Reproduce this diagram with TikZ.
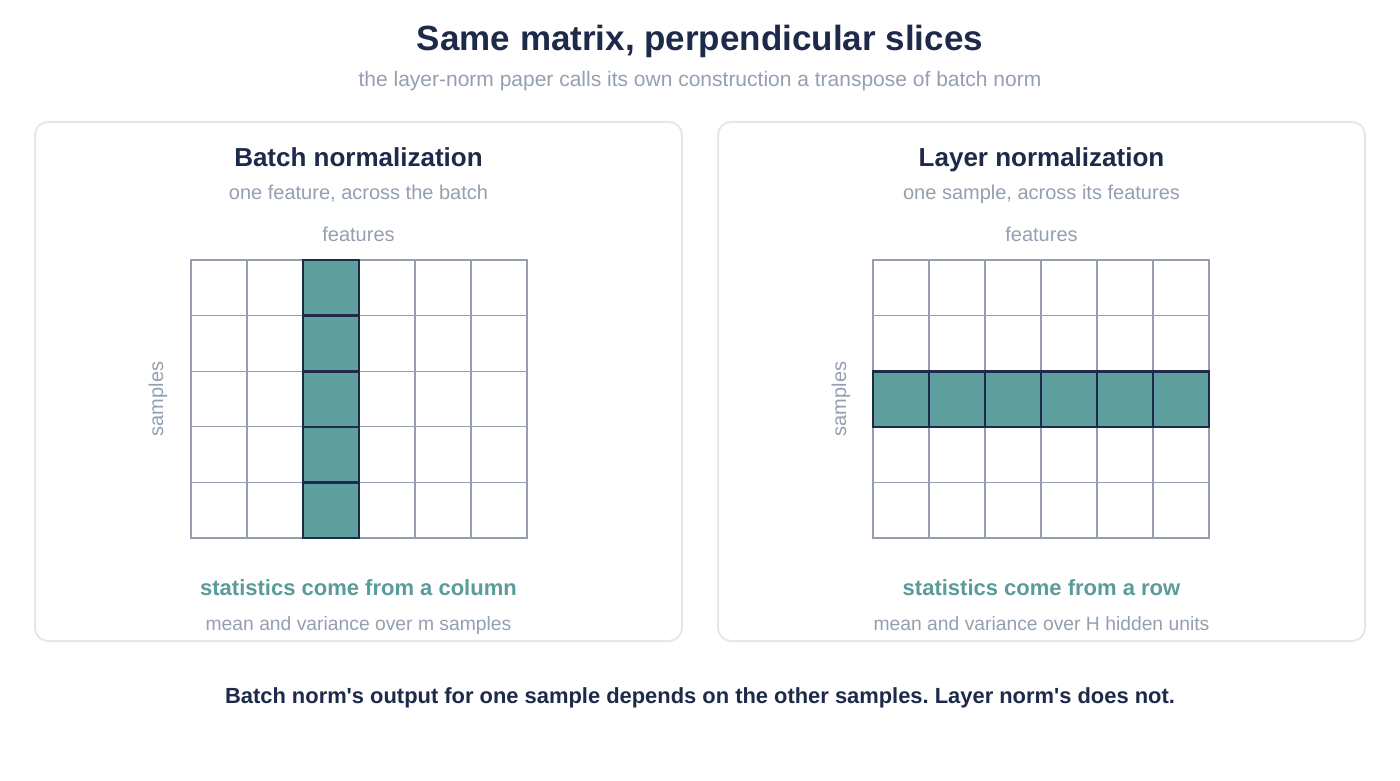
\documentclass[tikz,border=0pt]{standalone}
\usepackage{fontspec}
\setmainfont{Liberation Sans}
\definecolor{navy}{HTML}{1E2A4A}
\definecolor{muted}{HTML}{94A0B0}
\definecolor{panelline}{HTML}{E3E8EE}
\definecolor{gridline}{HTML}{949EAE}
\definecolor{teal}{HTML}{5F9F9D}
\definecolor{tealtext}{HTML}{5A9C99}
\newcommand{\fs}[1]{\fontsize{#1}{#1}\selectfont}
\frenchspacing
\tikzset{
  panel/.style={draw=panelline, line width=2pt, rounded corners=13pt, fill=white},
  cell/.style={draw=gridline, line width=1.3pt},
  hcell/.style={draw=navy, line width=2.6pt, fill=teal},
  ttl/.style={text=navy, font=\fs{35}\bfseries, anchor=base},
  sub/.style={text=muted, font=\fs{21}, anchor=base},
  ptitle/.style={text=navy, font=\fs{26}\bfseries, anchor=base},
  psub/.style={text=muted, font=\fs{20}, anchor=base},
  note/.style={text=muted, font=\fs{19.3}, anchor=base},
  rpsub/.style={text=muted, font=\fs{20}, anchor=center},
  stat/.style={text=tealtext, font=\fs{22}\bfseries, anchor=base},
  foot/.style={text=navy, font=\fs{21.9}\bfseries, anchor=base},
}
\begin{document}
\begin{tikzpicture}[x=1pt,y=-1pt]
\useasboundingbox (0,0) rectangle (1400,781);
\fill[white] (0,0) rectangle (1400,781);
\node[ttl] (title) at (700,50.5) {Same matrix, perpendicular slices};
\node[sub] (subtitle) at (700,86.5) {the layer-norm paper calls its own construction a transpose of batch norm};
% panels
\draw[panel] (35,122) rectangle (682,641);
\draw[panel] (718,122) rectangle (1365,641);
% left panel text
\node[ptitle] (lt) at (358.5,166.5) {Batch normalization};
\node[psub] (ls) at (358.5,199) {one feature, across the batch};
\node[psub] (lf) at (358.5,241) {features};
\node[rpsub, rotate=90] (lsm) at (158,399) {samples};
\node[stat] (lstat) at (358.5,595) {statistics come from a column};
\node[note] (lmv) at (358.5,630) {mean and variance over m samples};
% right panel text
\node[ptitle] (rt) at (1041.5,166.5) {Layer normalization};
\node[psub] (rs) at (1041.5,199) {one sample, across its features};
\node[psub] (rf) at (1041.5,241) {features};
\node[rpsub, rotate=90] (rsm) at (841,399) {samples};
\node[stat] (rstat) at (1041.5,595) {statistics come from a row};
\node[note] (rmv) at (1041.5,630) {mean and variance over H hidden units};
% grids
\foreach \gx in {191,873}{
  \foreach \c in {0,...,5}{
    \foreach \r in {0,...,4}{
      \draw[cell] ({\gx+\c*56},{260+\r*55.6}) rectangle ++(56,55.6);
    }
  }
}
% left highlighted column
\foreach \r in {0,...,4}{
  \draw[hcell] (303,{260+\r*55.6}) rectangle ++(56,55.6);
}
% right highlighted row
\foreach \c in {0,...,5}{
  \draw[hcell] ({873+\c*56},371.2) rectangle ++(56,55.6);
}
\node[foot] (footer) at (700,703.5) {Batch norm\textquotesingle s output for one sample depends on the other samples. Layer norm\textquotesingle s does not.};
\end{tikzpicture}
\end{document}
